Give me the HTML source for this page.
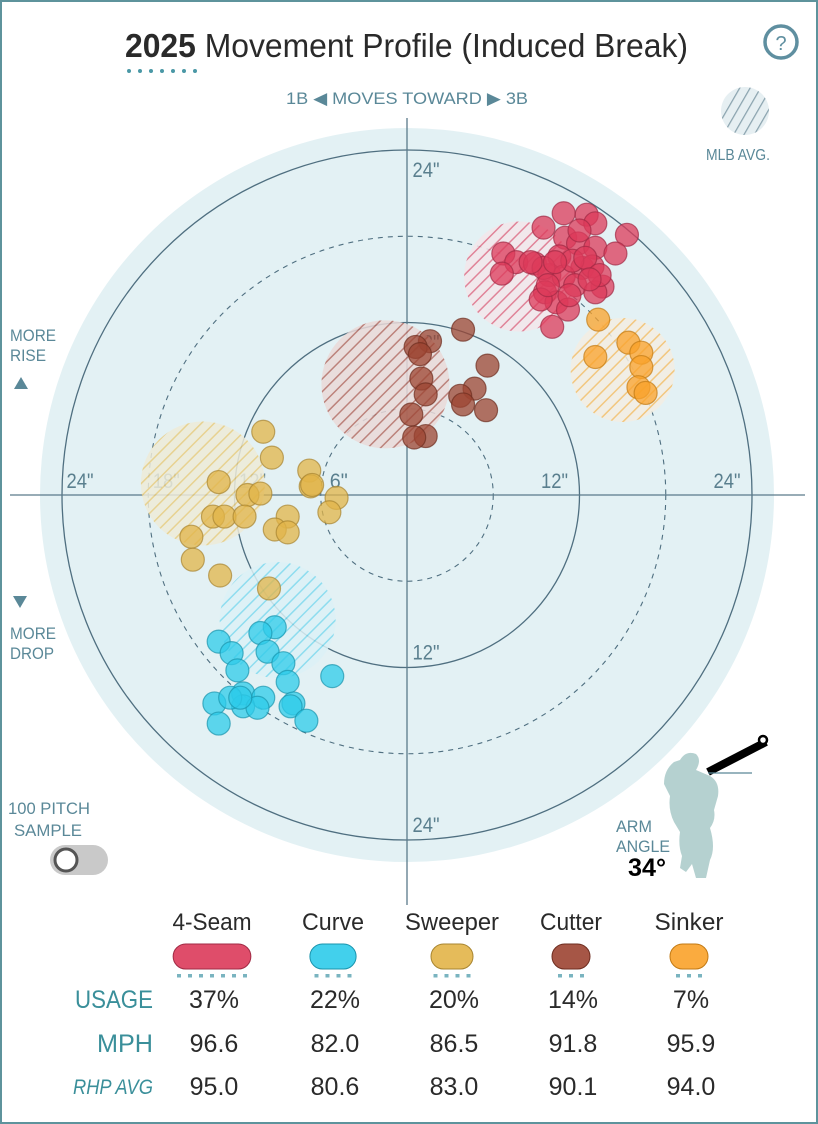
<!DOCTYPE html>
<html><head><meta charset="utf-8"><style>
html,body{margin:0;padding:0;background:#fff;}
svg{display:block;font-family:"Liberation Sans Narrow","Liberation Sans",sans-serif;}
</style></head><body>
<svg id="chart" width="818" height="1124" viewBox="0 0 818 1124" xmlns="http://www.w3.org/2000/svg">
<defs>
<pattern id="h-red" patternUnits="userSpaceOnUse" width="9" height="9" patternTransform="rotate(45)"><rect width="9" height="9" fill="#f3e6ea"/><line x1="0" y1="0" x2="0" y2="9" stroke="#e07088" stroke-width="3"/></pattern>
<pattern id="h-orange" patternUnits="userSpaceOnUse" width="9" height="9" patternTransform="rotate(45)"><rect width="9" height="9" fill="#f3eee2"/><line x1="0" y1="0" x2="0" y2="9" stroke="#f5bf6a" stroke-width="3"/></pattern>
<pattern id="h-brown" patternUnits="userSpaceOnUse" width="9" height="9" patternTransform="rotate(45)"><rect width="9" height="9" fill="#ead9d8"/><line x1="0" y1="0" x2="0" y2="9" stroke="#b56f66" stroke-width="3"/></pattern>
<pattern id="h-yellow" patternUnits="userSpaceOnUse" width="9" height="9" patternTransform="rotate(45)"><rect width="9" height="9" fill="#eeebd8"/><line x1="0" y1="0" x2="0" y2="9" stroke="#e8cc80" stroke-width="3"/></pattern>
<pattern id="h-cyan" patternUnits="userSpaceOnUse" width="9" height="9" patternTransform="rotate(45)"><rect width="9" height="9" fill="#dcf1f6"/><line x1="0" y1="0" x2="0" y2="9" stroke="#7fd9ee" stroke-width="3"/></pattern>
<pattern id="h-gray" patternUnits="userSpaceOnUse" width="9" height="9" patternTransform="rotate(30)"><rect width="9" height="9" fill="#e6eff2"/><line x1="0" y1="0" x2="0" y2="9" stroke="#8aa3ae" stroke-width="2.5"/></pattern>
</defs>
<rect x="1" y="1" width="816" height="1122" fill="none" stroke="#5e939c" stroke-width="2"/>
<text x="125" y="57" font-size="33" fill="#2a2a2a" textLength="563" lengthAdjust="spacingAndGlyphs"><tspan font-weight="bold">2025</tspan> Movement Profile (Induced Break)</text>
<g id="title-dots"></g>
<g><circle cx="781" cy="42" r="16" fill="none" stroke="#5f8fa0" stroke-width="3.5"/><text x="781" y="50" font-size="20" text-anchor="middle" fill="#5f8fa0">?</text></g>
<text x="407" y="104" font-size="17" text-anchor="middle" fill="#5a8898" textLength="242" lengthAdjust="spacingAndGlyphs">1B ◀  MOVES TOWARD  ▶ 3B</text>
<g><circle cx="745" cy="111" r="24" fill="url(#h-gray)"/><text x="738" y="160" font-size="16" text-anchor="middle" fill="#5a8898" textLength="64" lengthAdjust="spacingAndGlyphs">MLB AVG.</text></g>
<g id="plot"></g>
<g fill="#5a8898" font-size="17"><text x="10" y="341" textLength="46" lengthAdjust="spacingAndGlyphs">MORE</text><text x="10" y="361" textLength="36" lengthAdjust="spacingAndGlyphs">RISE</text><polygon points="14,389 28,389 21,377" fill="#5a8898"/></g>
<g fill="#5a8898" font-size="17"><polygon points="13,596 27,596 20,608" fill="#5a8898"/><text x="10" y="639" textLength="46" lengthAdjust="spacingAndGlyphs">MORE</text><text x="10" y="659" textLength="44" lengthAdjust="spacingAndGlyphs">DROP</text></g>
<g fill="#5a8898" font-size="17"><text x="8" y="814" textLength="82" lengthAdjust="spacingAndGlyphs">100 PITCH</text><text x="14" y="836" textLength="68" lengthAdjust="spacingAndGlyphs">SAMPLE</text></g>
<g><rect x="50" y="845" width="58" height="30" rx="15" fill="#c9c9c9"/><circle cx="66" cy="860" r="11" fill="#fff" stroke="#555" stroke-width="3"/></g>
<g>
<path d="M680,760 q6,-10 16,-6 q6,6 0,16 l14,6 q10,6 8,20 l-4,14 q2,10 -4,18 q6,20 0,32 l-4,18 l-10,0 l-4,-14 l-6,8 l-6,-4 l2,-12 q-4,-10 -2,-24 l-6,-10 q-6,-12 -4,-26 l-6,-12 q0,-14 10,-22 z" fill="#b5d1d0"/>
<line x1="708" y1="772" x2="766" y2="742" stroke="#000" stroke-width="8"/>
<line x1="708" y1="773" x2="752" y2="773" stroke="#5a8898" stroke-width="1.2"/>
<circle cx="763" cy="740" r="4" fill="#fff" stroke="#000" stroke-width="2.5"/>
</g>
<g><text x="616" y="832" font-size="17" fill="#5a8898" textLength="36" lengthAdjust="spacingAndGlyphs">ARM</text><text x="616" y="852" font-size="17" fill="#5a8898" textLength="54" lengthAdjust="spacingAndGlyphs">ANGLE</text><text x="628" y="876" font-size="25" font-weight="bold" fill="#000" textLength="38" lengthAdjust="spacingAndGlyphs">34°</text></g>
<g id="table"></g>
</svg>
<script>
const NS="http://www.w3.org/2000/svg";
const pitchNames=["4-Seam","Curve","Sweeper","Cutter","Sinker"];
const usage=["37%","22%","20%","14%","7%"];
const usagePct=[37,22,20,14,7];
const mph=["96.6","82.0","86.5","91.8","95.9"];
const rhpAvg=["95.0","80.6","83.0","90.1","94.0"];
const ringInches=[6,12,18,24];
const xTickLabels=["24\"","18\"","12\"","6\"","12\"","24\""];
const xTickVals=[-24,-18,-12,-6,12,24];
const yTickLabels=["24\"","12\"","12\"","24\""];
const yTickVals=[24,12,-12,-24];
// horizontal break (in), induced vertical break (in)
const fsH=[10.9,12.5,13.1,9.5,15.3,11.0,11.9,13.1,14.5,6.7,7.6,8.9,10.6,12.2,6.6,12.9,9.9,10.9,13.6,11.7,13.1,9.6,10.4,11.2,10.1,9.5,11.5,8.6,12.4,11.3,9.3,13.4,10.3,12.0,9.8,12.7];
const fsV=[19.6,19.5,18.9,18.6,18.1,17.9,17.5,17.2,16.8,16.8,16.2,16.1,16.6,15.8,15.4,15.9,15.3,15.2,14.5,14.6,14.1,14.1,13.4,12.9,11.7,15.8,16.3,16.2,16.5,13.9,13.6,15.3,16.2,18.4,14.6,15.0];
const cuH=[-9.2,-10.2,-13.1,-9.7,-12.2,-8.6,-11.8,-5.2,-8.3,-11.4,-10.0,-13.4,-11.4,-7.9,-10.4,-8.1,-7.0,-13.1,-12.3,-11.6];
const cuV=[-9.2,-9.6,-10.2,-10.9,-11.0,-11.7,-12.2,-12.6,-13.0,-13.8,-14.1,-14.5,-14.7,-14.5,-14.8,-14.7,-15.7,-15.9,-14.1,-14.1];
const swH=[-10.0,-9.4,-6.8,-13.1,-6.7,-11.1,-10.2,-4.9,-13.5,-12.7,-11.3,-5.4,-8.3,-9.2,-8.3,-15.0,-14.9,-13.0,-9.6,-6.6];
const swV=[4.4,2.6,1.7,0.9,0.6,0,0.1,-0.2,-1.5,-1.5,-1.5,-1.2,-1.5,-2.4,-2.6,-2.9,-4.5,-5.6,-6.5,0.7];
const ctH=[1.6,3.9,0.6,1.0,5.6,4.7,3.7,3.9,5.5,1.3,0.3,1.3,0.5,0.9];
const ctV=[10.7,11.5,10.3,8.1,9.0,7.4,6.9,6.3,5.9,7.0,5.6,4.1,4.0,9.8];
const skH=[13.3,15.4,16.3,13.1,16.3,16.1,16.6];
const skV=[12.2,10.6,9.9,9.6,8.9,7.5,7.1];
const avgH=[7.8,-9.0,-14.2,-1.5,15.0];
const avgV=[15.2,-8.7,0.8,7.7,8.7];

const CX=407,CY=495,PPI=345/24;
const sx=v=>CX+v*PPI, sy=v=>CY-v*PPI;
const fills=["#dc3a5a","#2ecbea","#e2b448","#9c4432","#f9a22a"];
const strokes=["#a02a44","#1a94ad","#a88530","#6e2d20","#c27a14"];
const pats=["h-red","h-cyan","h-yellow","h-brown","h-orange"];
const avgR=[55,58,62,64,52];
const series=[[fsH,fsV],[cuH,cuV],[swH,swV],[ctH,ctV],[skH,skV]];
function mk(tag,attrs,parent){const e=document.createElementNS(NS,tag);for(const k in attrs)e.setAttribute(k,attrs[k]);parent.appendChild(e);return e;}
const plot=document.getElementById('plot');
const bg=mk('circle',{cx:CX,cy:CY,r:367,fill:"#e3f1f4"},plot);


ringInches.forEach(r=>{
  const c=mk('circle',{cx:CX,cy:CY,r:sx(r)-CX,fill:"none",stroke:"#4f6f80","stroke-width":r%12===0?1.3:1.1,"stroke-dasharray":r%12===0?"none":"5,5"},plot);
  
  
});
const ax1=mk('line',{x1:10,y1:CY,x2:805,y2:CY,stroke:"#5a7a8a","stroke-width":1.3},plot);


const ax2=mk('line',{x1:CX,y1:118,x2:CX,y2:905,stroke:"#5a7a8a","stroke-width":1.3},plot);


xTickVals.forEach((v,i)=>{
  const t=mk('text',{x:sx(v)+(v<0?18:-25),y:CY-7,"font-size":21,fill:"#5a7f8e","text-anchor":"middle",textLength:xTickLabels[i].length*9,lengthAdjust:"spacingAndGlyphs"},plot);
  t.textContent=xTickLabels[i];
  
  
});
yTickVals.forEach((v,i)=>{
  const t=mk('text',{x:CX+19,y:sy(v)+(v>0?27:-8),"font-size":21,fill:"#5a7f8e","text-anchor":"middle",textLength:27,lengthAdjust:"spacingAndGlyphs"},plot);
  t.textContent=yTickLabels[i];
  
  
});
avgH.forEach((h,i)=>{
  const c=mk('circle',{cx:sx(h),cy:sy(avgV[i]),r:avgR[i],fill:"url(#"+pats[i]+")",opacity:0.85},plot);
  
  
});
series.forEach((s,i)=>{
  s[0].forEach((h,j)=>{
    const c=mk('circle',{cx:sx(h),cy:sy(s[1][j]),r:11.5,fill:fills[i],"fill-opacity":0.75,stroke:strokes[i],"stroke-opacity":0.7,"stroke-width":1.2},plot);
    
    
  });
});
const td=document.getElementById('title-dots');
for(let i=0;i<7;i++){mk('circle',{cx:129+i*11,cy:71,r:2,fill:"#4a98a6"},td);}
const tb=document.getElementById('table');
const colX=[212,333,452,571,689];
const nameW=[79,62,94,62,69];
const pillW=usagePct.map(u=>u*2.1);
pitchNames.forEach((n,i)=>{
  const t=mk('text',{x:colX[i],y:930,"font-size":24,"text-anchor":"middle",fill:"#2a2a2a",textLength:nameW[i],lengthAdjust:"spacingAndGlyphs"},tb);t.textContent=n;
  
  
  const w=Math.max(pillW[i],38);
  const p=mk('rect',{x:colX[i]-w/2,y:944,width:w,height:25,rx:12.5,fill:fills[i],stroke:strokes[i],"stroke-width":1,"fill-opacity":0.9},tb);
  
  
  const nd=Math.round(w/11);
  for(let k=0;k<nd;k++){mk('rect',{x:colX[i]-(nd-1)*5.5+k*11-2,y:974,width:4,height:3.5,fill:"#7ab4c0"},tb);}
  const rows=[usage,mph,rhpAvg],ys=[1008,1052,1095];
  rows.forEach((r,k)=>{const v=mk('text',{x:colX[i]+2,y:ys[k],"font-size":25,"text-anchor":"middle",fill:"#2a2a2a"},tb);v.textContent=r[i];
    
    });
});
[["USAGE",1008,"",78],["MPH",1052,"",56],["RHP AVG",1094,"italic",80]].forEach(r=>{
  const t=mk('text',{x:153,y:r[1],"font-size":r[2]?21:25,"text-anchor":"end",fill:"#3a8f9a","font-style":r[2]||"normal",textLength:r[3],lengthAdjust:"spacingAndGlyphs"},tb);t.textContent=r[0];
  
  
});
</script>
</body></html>
